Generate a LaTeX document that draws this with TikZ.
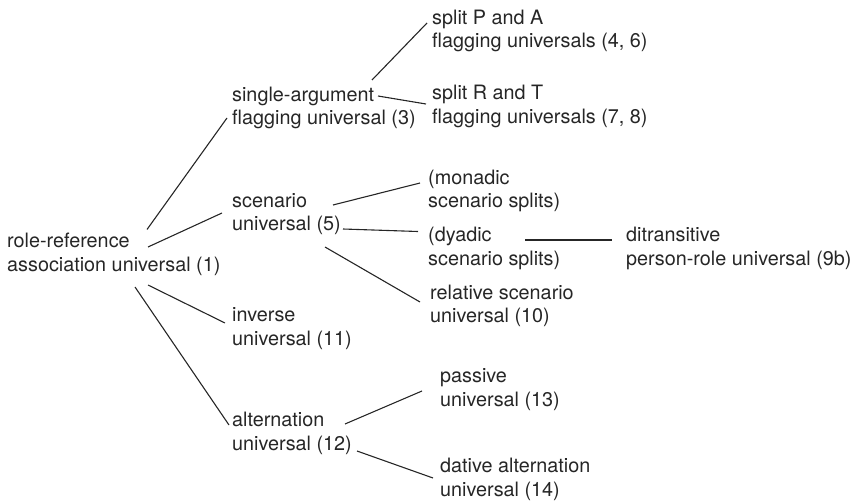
\documentclass[tikz,border=0pt]{standalone}
\usepackage{fontspec}
\setmainfont{TeX Gyre Heros}
\usepackage{tikz}
\tikzset{
    x=1pt, y=-1pt, % one unit is one pixel of the picture, y grows downwards
    term/.style={anchor=west, align=left, inner sep=0pt, text=black!85,
        font=\fontsize{19.8}{23.5}\selectfont}, % the text of each universal
    branch/.style={line width=1.1pt, black!85}, % sets the look of each connector
    }

\begin{document}
\begin{tikzpicture}
        \useasboundingbox (0,0) rectangle (855,503);

        \node[term] (root) at (7,254.5) {role-reference\\association universal (1)};
        \node[term] (single) at (232,108) {single-argument\\flagging universal (3)};
        \node[term] (scen) at (232,214) {scenario\\universal (5)};
        \node[term] (inv) at (232,328.5) {inverse\\universal (11)};
        \node[term] (alt) at (232,433.5) {alternation\\universal (12)};
        \node[term] (splitpa) at (432,31) {split P and A\\flagging universals (4, 6)};
        \node[term] (splitrt) at (432,106.5) {split R and T\\flagging universals (7, 8)};
        \node[term] (monadic) at (428,191) {(monadic\\scenario splits)};
        \node[term] (dyadic) at (428,248.5) {(dyadic\\scenario splits)};
        \node[term] (relscen) at (430,306) {relative scenario\\universal (10)};
        \node[term] (ditrans) at (626,248.5) {ditransitive\\person-role universal (9b)};
        \node[term] (passive) at (440,389.5) {passive\\universal (13)};
        \node[term] (dative) at (440,479.5) {dative alternation\\universal (14)};

        \draw[branch] ([shift={(140,-25)}]root.west) -- ([shift={(-5,10)}]single.west);
        \draw[branch] ([shift={(141,-7.5)}]root.west) -- ([shift={(-10,-1)}]scen.west);
        \draw[branch] ([shift={(141,30.5)}]root.west) -- ([shift={(-7,-5.5)}]inv.west);
        \draw[branch] ([shift={(128,32.5)}]root.west) -- ([shift={(-3,-8.5)}]alt.west);
        \draw[branch] ([shift={(140,-28)}]single.west) -- ([shift={(-5,-8)}]splitpa.west);
        \draw[branch] ([shift={(146,-12)}]single.west) -- ([shift={(-6,-2.5)}]splitrt.west);
        \draw[branch] ([shift={(101,-9)}]scen.west) -- ([shift={(-8,-8)}]monadic.west);
        \draw[branch] ([shift={(111,15)}]scen.west) -- ([shift={(-10,-17)}]dyadic.west);
        \draw[branch] ([shift={(93,33)}]scen.west) -- ([shift={(-10,-4)}]relscen.west);
        \draw[branch] ([shift={(97,-8.5)}]dyadic.west) -- ([shift={(-14,-8.5)}]ditrans.west);
        \draw[branch] ([shift={(113,-9.5)}]alt.west) -- ([shift={(-18,1.5)}]passive.west);
        \draw[branch] ([shift={(125,17.5)}]alt.west) -- ([shift={(-7,-1.5)}]dative.west);
    \end{tikzpicture}
\end{document}
